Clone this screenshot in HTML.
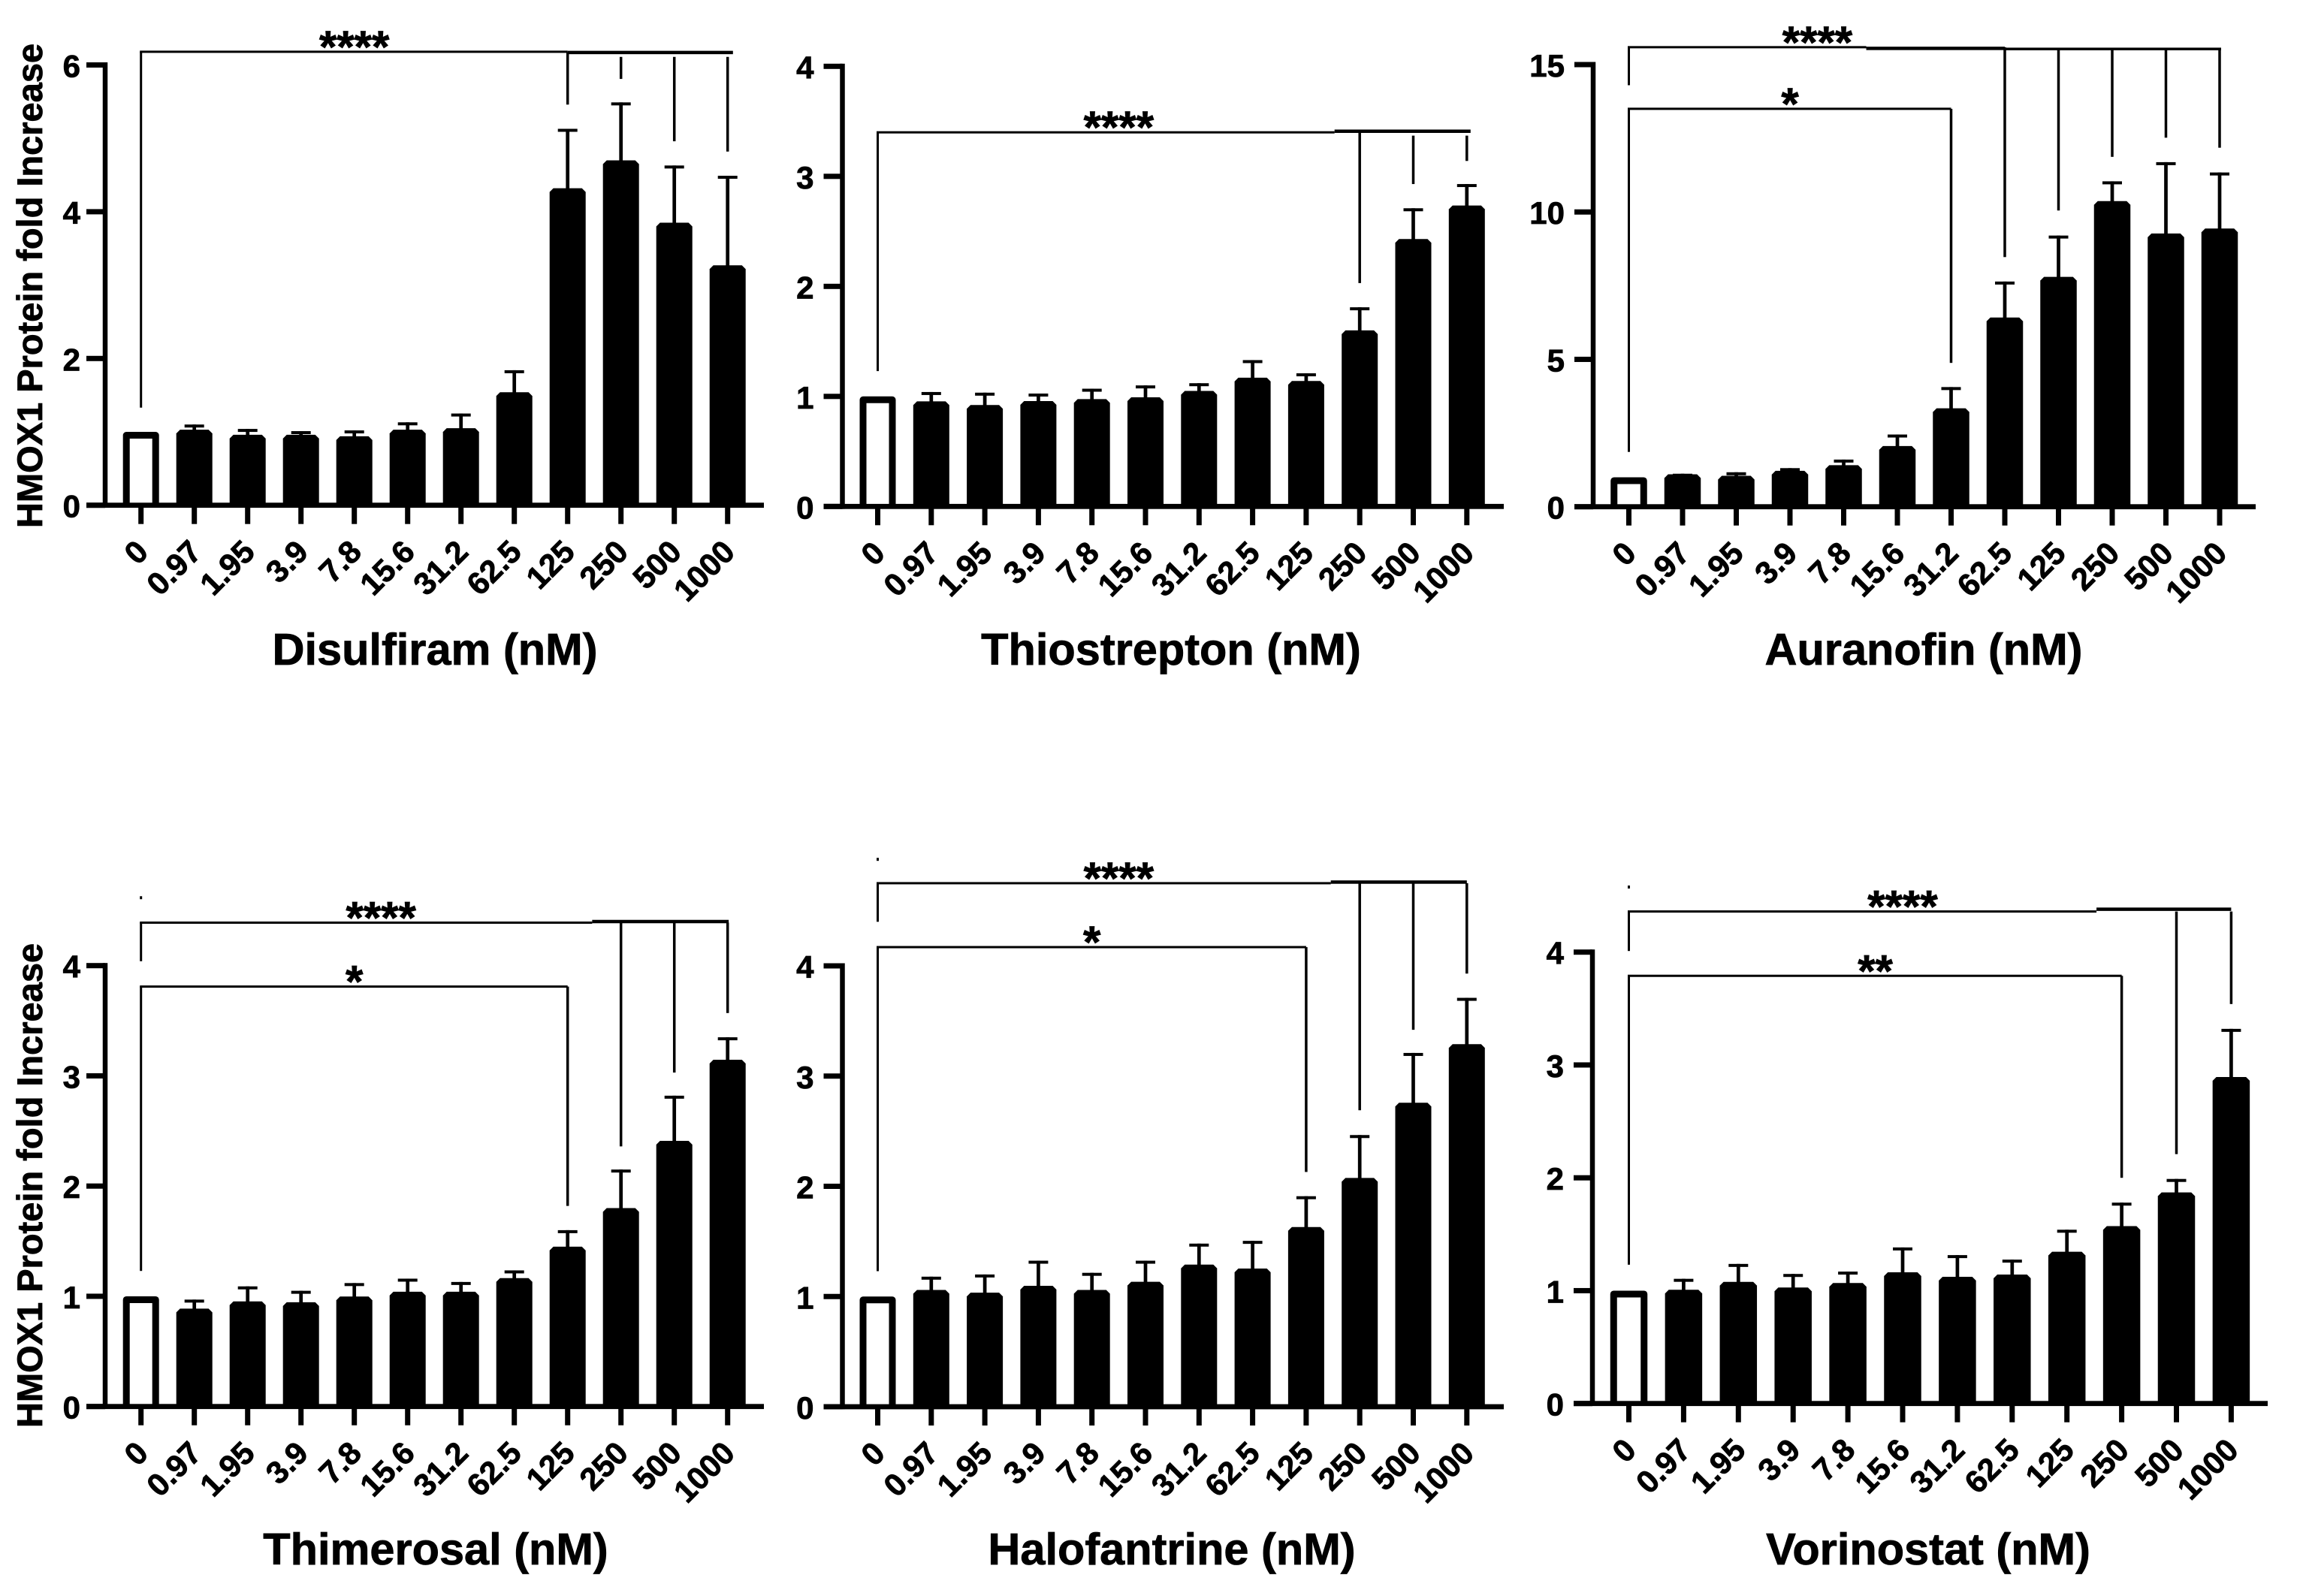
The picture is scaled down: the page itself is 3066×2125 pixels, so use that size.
<!DOCTYPE html>
<html lang="en">
<head>
<meta charset="utf-8">
<title>HMOX1 Protein fold increase by compound</title>
<style>
  html, body { margin: 0; padding: 0; background: #fff; }
  #figure { display: block; }
  text { font-family: "Liberation Sans", Arial, sans-serif; font-weight: 700; fill: #000; stroke: #000; stroke-width: 0.8px; }
</style>
</head>
<body>
<svg id="figure" xmlns="http://www.w3.org/2000/svg" width="3066" height="2125" viewBox="0 0 3066 2125"></svg>
<script>
// ---- shared data ----
const doseLabels = ["0","0.97","1.95","3.9","7.8","15.6","31.2","62.5","125","250","500","1000"];
const yAxisTitle = "HMOX1 Protein fold Increase";

// ---- Disulfiram ----
const disulfiramMeans = [1.00,1.03,0.96,0.96,0.94,1.03,1.05,1.54,4.32,4.70,3.85,3.27];
const disulfiramUpper = [1.00,1.10,1.04,1.01,1.02,1.13,1.25,1.84,5.13,5.49,4.63,4.49];
const disulfiramTicks = [0,2,4,6];

// ---- Thiostrepton ----
const thiostreptonMeans = [1.00,0.955,0.922,0.958,0.976,0.992,1.05,1.17,1.14,1.60,2.43,2.735];
const thiostreptonUpper = [1.00,1.04,1.034,1.026,1.07,1.10,1.12,1.33,1.21,1.81,2.71,2.93];
const thiostreptonTicks = [0,1,2,3,4];

// ---- Auranofin ----
const auranofinMeans = [1.00,1.10,1.05,1.22,1.41,2.06,3.34,6.42,7.80,10.37,9.27,9.44];
const auranofinUpper = [1.00,1.12,1.17,1.31,1.60,2.45,4.06,7.64,9.20,11.04,11.69,11.34];
const auranofinTicks = [0,5,10,15];

// ---- Thimerosal ----
const thimerosalMeans = [1.00,0.888,0.954,0.946,0.998,1.041,1.041,1.165,1.45,1.80,2.41,3.146];
const thimerosalUpper = [1.00,0.97,1.09,1.05,1.12,1.16,1.13,1.235,1.60,2.15,2.82,3.35];
const thimerosalTicks = [0,1,2,3,4];

// ---- Halofantrine ----
const halofantrineMeans = [1.00,1.06,1.035,1.097,1.06,1.134,1.29,1.254,1.63,2.076,2.758,3.29];
const halofantrineUpper = [1.00,1.18,1.20,1.325,1.215,1.325,1.48,1.505,1.91,2.465,3.21,3.71];
const halofantrineTicks = [0,1,2,3,4];

// ---- Vorinostat ----
const vorinostatMeans = [1.00,1.008,1.078,1.028,1.068,1.163,1.123,1.143,1.345,1.572,1.871,2.893];
const vorinostatUpper = [1.00,1.105,1.237,1.148,1.169,1.383,1.315,1.275,1.54,1.78,1.99,3.32];
const vorinostatTicks = [0,1,2,3,4];

// ---- significance annotations, in data units / category indices ----
const disulfiramBrackets = [
  { stars:"****", starAt:4, level:6.18, leftEnd:1.33, thinTo:8, thickFrom:8, thickTo:11.1, thickLevel:6.17, drops:[[8,6.17,5.46],[9,6.11,5.81],[10,6.11,4.96],[11,6.11,4.82]] }
];
const thiostreptonBrackets = [
  { stars:"****", starAt:4.5, level:3.40, leftEnd:1.23, thinTo:8.53, thickFrom:8.53, thickTo:11.07, thickLevel:3.41, drops:[[9,3.40,2.03],[10,3.37,2.93],[11,3.37,3.14]] }
];
const auranofinBrackets = [
  { stars:"****", starAt:3.51, level:15.59, leftEnd:14.3, thinTo:4.42, thickFrom:4.42, thickTo:7, thickLevel:15.55, tailFrom:7, tailTo:11, tailLevel:15.53, drops:[[7,15.59,8.47],[8,15.53,10.05],[9,15.53,11.87],[10,15.53,12.52],[11,15.53,12.18]] },
  { stars:"*", starAt:3, level:13.5, leftEnd:1.86, thinTo:6, drops:[[6,13.5,4.88]] }
];
const thimerosalBrackets = [
  { stars:"****", starAt:4.5, level:4.39, leftEnd:4.04, thinTo:8.46, thickFrom:8.46, thickTo:11.02, thickLevel:4.40, drops:[[9,4.39,2.36],[10,4.39,3.03],[11,4.39,3.57]] },
  { stars:"*", starAt:4, level:3.81, leftEnd:1.23, thinTo:8, drops:[[8,3.81,1.82]] }
];
const halofantrineBrackets = [
  { stars:"****", starAt:4.5, level:4.75, leftEnd:4.40, thinTo:8.46, thickFrom:8.46, thickTo:11, thickLevel:4.76, drops:[[9,4.75,2.69],[10,4.75,3.42],[11,4.75,3.93]] },
  { stars:"*", starAt:4, level:4.17, leftEnd:1.23, thinTo:8, drops:[[8,4.17,2.13]] }
];
const vorinostatBrackets = [
  { stars:"****", starAt:5, level:4.36, leftEnd:4.01, thinTo:8.54, thickFrom:8.54, thickTo:11, thickLevel:4.38, drops:[[10,4.36,2.21],[11,4.36,3.54]] },
  { stars:"**", starAt:4.5, level:3.79, leftEnd:1.23, thinTo:9, drops:[[9,3.79,2.0]] }
];

// ---- panel wiring and layout ----
const panels = [
  { key:"disulfiram", title:"Disulfiram (nM)", means:disulfiramMeans, upper:disulfiramUpper, ticks:disulfiramTicks, brackets:disulfiramBrackets,
    ox:140, oy:672.7, top:86.5, yMax:6, x0:187.7, dx:71, right:1017, barW:48, titleX:579, titleY:885, labelGap:33, yTitle:true, yTitleStart:703 },
  { key:"thiostrepton", title:"Thiostrepton (nM)", means:thiostreptonMeans, upper:thiostreptonUpper, ticks:thiostreptonTicks, brackets:thiostreptonBrackets,
    ox:1121.5, oy:674.3, top:88.3, yMax:4, x0:1168.5, dx:71.3, right:2002, barW:48, titleX:1559, titleY:885, labelGap:38 },
  { key:"auranofin", title:"Auranofin (nM)", means:auranofinMeans, upper:auranofinUpper, ticks:auranofinTicks, brackets:auranofinBrackets,
    ox:2121, oy:674.7, top:86, yMax:15, x0:2168.5, dx:71.5, right:3003, barW:48.5, titleX:2561, titleY:885, labelGap:38 },
  { key:"thimerosal", title:"Thimerosal (nM)", means:thimerosalMeans, upper:thimerosalUpper, ticks:thimerosalTicks, brackets:thimerosalBrackets,
    ox:140, oy:1872.7, top:1285.7, yMax:4, x0:187.7, dx:71, right:1017, barW:48, titleX:580, titleY:2083, labelGap:33, yTitle:true, yTitleStart:1901, speckAt:4.63 },
  { key:"halofantrine", title:"Halofantrine (nM)", means:halofantrineMeans, upper:halofantrineUpper, ticks:halofantrineTicks, brackets:halofantrineBrackets,
    ox:1121.5, oy:1873, top:1286, yMax:4, x0:1168.5, dx:71.3, right:2002, barW:48, titleX:1560, titleY:2083, labelGap:38, speckAt:4.98 },
  { key:"vorinostat", title:"Vorinostat (nM)", means:vorinostatMeans, upper:vorinostatUpper, ticks:vorinostatTicks, brackets:vorinostatBrackets,
    ox:2120, oy:1868.7, top:1267.7, yMax:4, x0:2168.5, dx:72.9, right:3019, barW:49.5, titleX:2567, titleY:2083, labelGap:38, speckAt:4.59 }
];

const svgNS = "http://www.w3.org/2000/svg";
const root = document.getElementById("figure");

function mark(parent, tag, attrs, name, text) {
  const el = document.createElementNS(svgNS, tag);
  for (const k in attrs) el.setAttribute(k, attrs[k]);
  
  
  if (text !== undefined) el.textContent = text;
  parent.appendChild(el);
  return el;
}
function hLine(parent, x1, x2, y, w, name) {
  return mark(parent, "rect", { x: x1, y: y - w / 2, width: x2 - x1, height: w, fill: "#000" }, name);
}
function vLine(parent, x, y1, y2, w, name) {
  return mark(parent, "rect", { x: x - w / 2, y: Math.min(y1, y2), width: w, height: Math.abs(y2 - y1), fill: "#000" }, name);
}

panels.forEach(function (p) {
  const yScale = function (v) { return p.oy - (v / p.yMax) * (p.oy - p.top); };
  const xScale = function (i) { return p.x0 + i * p.dx; };
  const g = mark(root, "g", {}, p.key + "-panel");

  // bars
  p.means.forEach(function (v, i) {
    const cx = xScale(i), t = yScale(v), hw = p.barW / 2, r = 5;
    if (i === 0) {
      const ins = 4.5;
      mark(g, "path", {
        d: "M" + (cx - hw + ins) + " " + p.oy + "V" + (t + ins) + "H" + (cx + hw - ins) + "V" + p.oy,
        fill: "#fff", stroke: "#000", "stroke-width": 9, "stroke-linejoin": "round"
      }, p.key + "-bar-" + doseLabels[i]);
    } else {
      mark(g, "path", {
        d: "M" + (cx - hw) + " " + p.oy + "V" + (t + r) + "L" + (cx - hw + r) + " " + t + "H" + (cx + hw - r) + "L" + (cx + hw) + " " + (t + r) + "V" + p.oy + "Z",
        fill: "#000"
      }, p.key + "-bar-" + doseLabels[i]);
      const up = yScale(p.upper[i]);
      vLine(g, cx, up, t + 1, 4.7, p.key + "-error-stem-" + doseLabels[i]);
      hLine(g, cx - 13, cx + 13, up + 2, 4, p.key + "-error-cap-" + doseLabels[i]);
    }
  });

  // axes
  vLine(g, p.ox, p.top - 3.5, p.oy + 3.3, 6.5, p.key + "-y-axis");
  hLine(g, p.ox - 25, p.right, p.oy, 6.8, p.key + "-x-axis");

  // y ticks
  p.ticks.forEach(function (v) {
    const y = yScale(v);
    hLine(g, p.ox - 25, p.ox, y, 7, p.key + "-y-tick-" + v);
    mark(g, "text", { x: p.ox - p.labelGap, y: y + 16, "text-anchor": "end", "font-size": 42 }, p.key + "-y-tick-label-" + v, String(v));
  });

  // x ticks and rotated labels
  doseLabels.forEach(function (lab, i) {
    const x = xScale(i);
    vLine(g, x, p.oy, p.oy + 25, 7, p.key + "-x-tick-" + lab);
    const lx = x + 12, ly = p.oy + 64.5;
    mark(g, "text", { x: lx, y: ly, "text-anchor": "end", "font-size": 42, transform: "rotate(-45 " + lx + " " + ly + ")" }, p.key + "-x-tick-label-" + lab, lab);
  });

  // axis titles
  mark(g, "text", { x: p.titleX, y: p.titleY, "text-anchor": "middle", "font-size": 59.5 }, p.key + "-x-axis-title", p.title);
  if (p.yTitle) {
    mark(g, "text", { x: 0, y: 0, "font-size": 47, transform: "translate(56 " + p.yTitleStart + ") rotate(-90)" }, p.key + "-y-axis-title", yAxisTitle);
  }

  // stray print speck above the first bracket
  if (p.speckAt !== undefined) {
    mark(g, "rect", { x: xScale(0) - 1.5, y: yScale(p.speckAt), width: 3, height: 4, fill: "#000" }, p.key + "-speck");
  }

  // significance brackets
  p.brackets.forEach(function (b, bi) {
    const ly = yScale(b.level), nm = p.key + "-bracket-" + (bi + 1);
    hLine(g, xScale(0) - 1.5, xScale(b.thinTo), ly, 3, nm + "-line");
    vLine(g, xScale(0), ly, yScale(b.leftEnd), 3, nm + "-left-drop");
    if (b.thickFrom !== undefined) {
      hLine(g, xScale(b.thickFrom), xScale(b.thickTo), yScale(b.thickLevel), 4.5, nm + "-thick-line");
    }
    if (b.tailFrom !== undefined) {
      hLine(g, xScale(b.tailFrom), xScale(b.tailTo) + 2, yScale(b.tailLevel), 3.5, nm + "-tail-line");
    }
    b.drops.forEach(function (d) {
      vLine(g, xScale(d[0]), yScale(d[1]), yScale(d[2]), 3.5, nm + "-drop-" + doseLabels[d[0]]);
    });
    mark(g, "text", { x: xScale(b.starAt), y: ly + 14, "text-anchor": "middle", "font-size": 60 }, nm + "-stars", b.stars);
  });
});
</script>
</body>
</html>
